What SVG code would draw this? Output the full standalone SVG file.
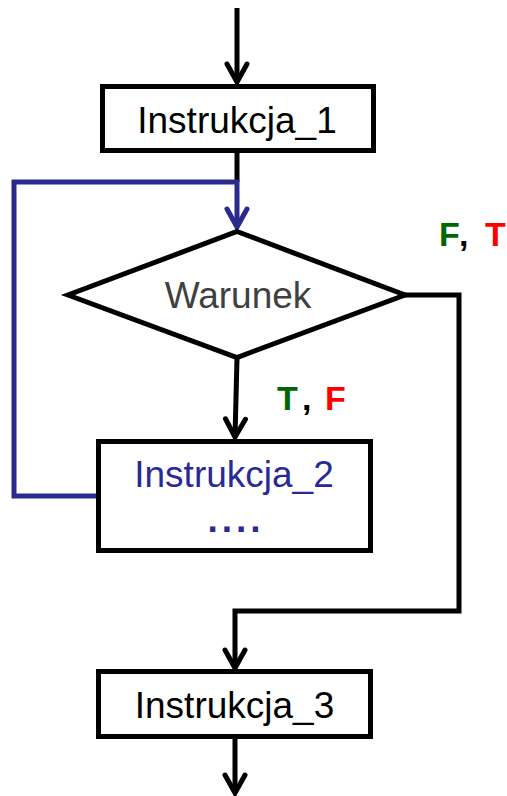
<svg xmlns="http://www.w3.org/2000/svg" width="507" height="796" viewBox="0 0 507 796">
<style>
.box{fill:#fff;stroke:#000;stroke-width:5}
.ln{fill:none;stroke:#000;stroke-width:5}
.bl{fill:none;stroke:#2a2a8e;stroke-width:5}
.t{font-family:"Liberation Sans",Arial,sans-serif;font-size:37px;text-anchor:middle}
.lb{font-family:"Liberation Sans",Arial,sans-serif;font-size:34px;font-weight:bold}
</style>
<defs>
<marker id="ah" markerUnits="userSpaceOnUse" orient="auto" refX="0" refY="0" markerWidth="20" markerHeight="20" style="overflow:visible">
<path d="M-18,-10 L0,0 L-18,10" fill="none" stroke="#000" stroke-width="5" stroke-linecap="round"/>
</marker>
<marker id="ahb" markerUnits="userSpaceOnUse" orient="auto" refX="0" refY="0" markerWidth="20" markerHeight="20" style="overflow:visible">
<path d="M-18,-10 L0,0 L-18,10" fill="none" stroke="#2a2a8e" stroke-width="5" stroke-linecap="round"/>
</marker>
</defs>
<g id="connectors">
<path class="ln" d="M237,8 V82" marker-end="url(#ah)"/>
<path class="ln" d="M237,152 V182"/>
<path class="bl" d="M98,496 H14 V182 H237 V227" marker-end="url(#ahb)"/>
<path class="ln" d="M237,358 L235,437" marker-end="url(#ah)"/>
<path class="ln" d="M404,295 H459 V611 H235 V668" marker-end="url(#ah)"/>
<path class="ln" d="M235,738 V793" marker-end="url(#ah)"/>
</g>
<g id="instrukcja1">
<rect class="box" x="102.5" y="86.5" width="271" height="64"/>
<text class="t" x="237" y="133">Instrukcja_1</text>
</g>
<g id="warunek">
<polygon class="box" points="237,231.5 405,295 237,357.5 68,295"/>
<text class="t" x="238" y="308" fill="#404040">Warunek</text>
</g>
<g id="instrukcja2">
<rect class="box" x="98.5" y="441.5" width="272" height="109"/>
<text class="t" x="234" y="487" fill="#2a2a96">Instrukcja_2</text>
<text class="t" x="236" y="532" fill="#2a2a96" font-weight="bold" letter-spacing="4">....</text>
</g>
<g id="instrukcja3">
<rect class="box" x="98.5" y="671.5" width="272" height="65"/>
<text class="t" x="234.5" y="718">Instrukcja_3</text>
</g>
<g id="label-ft">
<text class="lb" x="439" y="246" fill="#006600">F</text>
<text class="lb" x="459" y="246" fill="#000" font-weight="normal">,</text>
<text class="lb" x="485" y="246" fill="#ff0000">T</text>
</g>
<g id="label-tf">
<text class="lb" x="277" y="410" fill="#006600">T</text>
<text class="lb" x="302" y="410" fill="#000" font-weight="normal">,</text>
<text class="lb" x="325" y="410" fill="#ff0000">F</text>
</g>
</svg>
